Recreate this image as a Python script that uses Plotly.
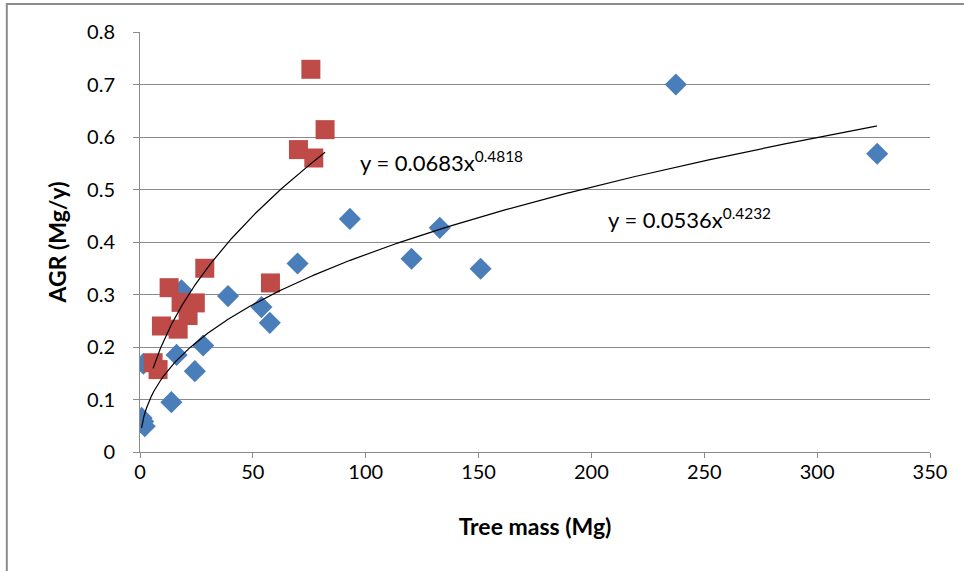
import numpy as np
import plotly.graph_objects as go

# Blue series (diamonds)
blue_x = [0.7, 1.4, 2.1, 1.5, 13.9, 16.2, 18.4, 24.3, 28.0, 39.0, 53.8, 57.5,
          69.8, 93.0, 120.3, 132.8, 150.9, 237.4, 326.6]
blue_y = [0.065, 0.058, 0.049, 0.168, 0.095, 0.185, 0.308, 0.154, 0.203, 0.297,
          0.276, 0.246, 0.359, 0.444, 0.368, 0.427, 0.349, 0.700, 0.568]

# Red series (squares)
red_x = [5.8, 8.0, 9.5, 16.9, 21.3, 12.9, 18.2, 24.5, 28.7, 57.8, 70.2, 77.0, 75.7, 82.0]
red_y = [0.170, 0.157, 0.240, 0.234, 0.260, 0.313, 0.285, 0.284, 0.350, 0.322,
         0.576, 0.560, 0.729, 0.614]

# Power trendline coefficients (as printed on the chart)
blue_fit = (0.0536, 0.4232)
red_fit = (0.0683, 0.4818)

x_ticks = [0, 50, 100, 150, 200, 250, 300, 350]
y_ticks = [0, 0.1, 0.2, 0.3, 0.4, 0.5, 0.6, 0.7, 0.8]
y_tick_labels = ["0", "0.1", "0.2", "0.3", "0.4", "0.5", "0.6", "0.7", "0.8"]

FONT = "Lato, 'Open Sans', sans-serif"
GRID = "#8a8a8a"

fig = go.Figure()

fig.add_trace(go.Scatter(
    x=blue_x, y=blue_y, mode="markers",
    marker=dict(symbol="diamond", size=17, color="#4A7EBB", line=dict(width=0)),
    showlegend=False))

fig.add_trace(go.Scatter(
    x=red_x, y=red_y, mode="markers",
    marker=dict(symbol="square", size=19, color="#BE4B48", line=dict(width=0)),
    showlegend=False))

def trend(xs, coef):
    a, b = coef
    xx = np.linspace(min(xs), max(xs), 300)
    return xx, a * xx ** b

bx, by = trend(blue_x, blue_fit)
rx, ry = trend(red_x, red_fit)
fig.add_trace(go.Scatter(x=bx, y=by, mode="lines",
                         line=dict(color="black", width=1.2), showlegend=False))
fig.add_trace(go.Scatter(x=rx, y=ry, mode="lines",
                         line=dict(color="black", width=1.2), showlegend=False))

fig.add_annotation(x=96.5, y=0.553, xref="x", yref="y", xanchor="left", yanchor="middle",
                   text="y = 0.0683x<sup>0.4818</sup>", showarrow=False,
                   font=dict(family=FONT, size=22, color="black"))
fig.add_annotation(x=206.5, y=0.445, xref="x", yref="y", xanchor="left", yanchor="middle",
                   text="y = 0.0536x<sup>0.4232</sup>", showarrow=False,
                   font=dict(family=FONT, size=22, color="black"))

# Outer chart border (cropped on right and bottom)
fig.add_shape(type="rect", xref="paper", yref="paper",
              x0=-0.1686, x1=1.2, y0=-0.4, y1=1.0666,
              line=dict(color="#8c8c8c", width=2), fillcolor="rgba(0,0,0,0)", layer="below")

fig.update_layout(
    width=964, height=571,
    margin=dict(l=140, r=34, t=32, b=118.5),
    paper_bgcolor="white", plot_bgcolor="white",
    font=dict(family=FONT, size=20, color="black"),
    xaxis=dict(range=[0, 350], tickvals=x_ticks, showgrid=False, zeroline=False,
               showline=True, linecolor=GRID, linewidth=1,
               ticks="outside", ticklen=5, tickcolor=GRID,
               tickfont=dict(family=FONT, size=20), ticklabelstandoff=-3,
               title=dict(text="<b>Tree mass (Mg)</b>", font=dict(family=FONT, size=23), standoff=36)),
    yaxis=dict(range=[0, 0.8], tickvals=y_ticks, ticktext=y_tick_labels,
               showgrid=True, gridcolor=GRID, gridwidth=1, zeroline=False,
               showline=True, linecolor=GRID, linewidth=1,
               ticks="outside", ticklen=6, tickcolor=GRID,
               tickfont=dict(family=FONT, size=20), ticklabelstandoff=14,
               title=dict(text="<b>AGR (Mg/y)</b>", font=dict(family=FONT, size=23), standoff=14)),
)

fig.write_html("out.html", config={"displayModeBar": False},
               post_script="document.body.style.margin='0px';document.body.style.overflow='hidden';")
